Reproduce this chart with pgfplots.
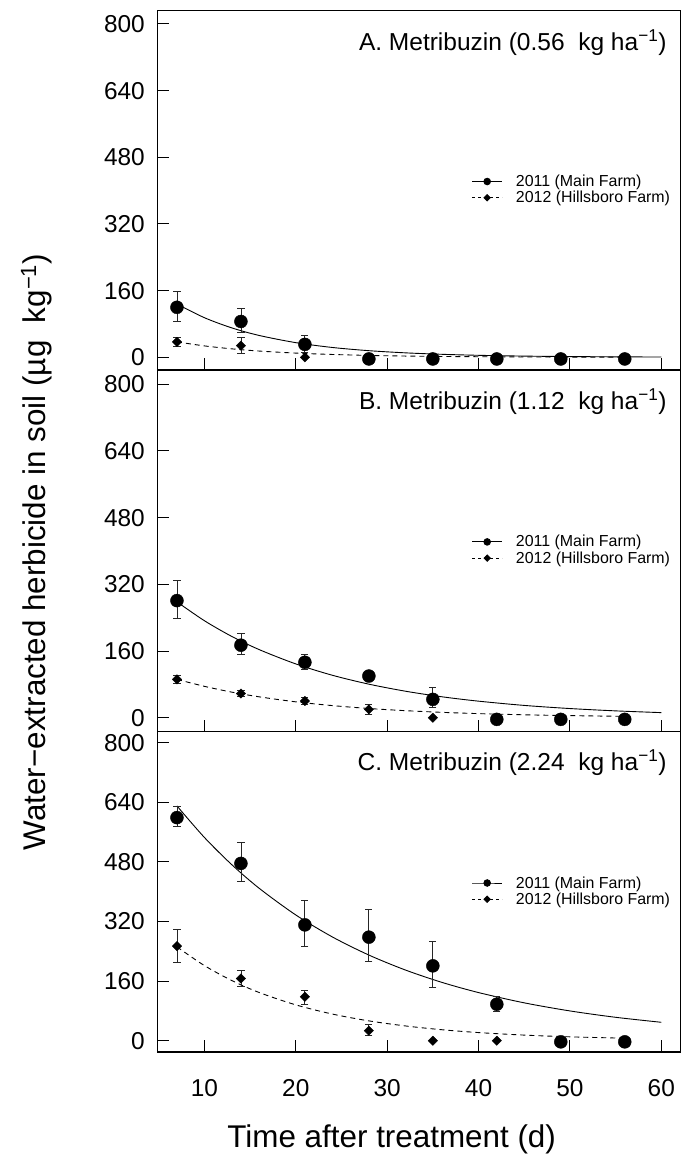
\documentclass[border=0pt]{standalone}
\usepackage{fontspec}
\setmainfont{Liberation Sans}
\usepackage{pgfplots}
\usepackage{pgfplotstable}
\pgfplotsset{compat=1.18}

% panel A (0.56 kg/ha)
\pgfplotstableread{
x y ep em
7 120 37 35
14 86 32 26
21 31 21 19
28 -4 0 0
35 -4 0 0
42 -4 0 0
49 -4 0 0
56 -4 0 0
}\Acirc
\pgfplotstableread{
x y ep em
7 37 11 11
14 28 19 19
21 0 0 0
28 0 0 0
35 0 0 0
42 0 0 0
49 0 0 0
56 0 0 0
}\Adiam
% panel B (1.12 kg/ha)
\pgfplotstableread{
x y ep em
7 281 49 43
14 174 28 22
21 133 19 17
28 100 0 0
35 44 28 20
42 -4 0 0
49 -4 0 0
56 -4 0 0
}\Bcirc
\pgfplotstableread{
x y ep em
7 92 10 10
14 58 7 7
21 40 8 8
28 20 13 13
35 0 0 0
42 0 0 0
49 0 0 0
56 0 0 0
}\Bdiam
% panel C (2.24 kg/ha)
\pgfplotstableread{
x y ep em
7 599 31 23
14 476 56 47
21 311 66 59
28 278 75 64
35 201 66 58
42 98 21 18
49 -3 0 0
56 -3 0 0
}\Ccirc
\pgfplotstableread{
x y ep em
7 254 46 45
14 167 23 22
21 118 18 20
28 27 17 14
35 0 0 0
42 0 0 0
49 0 0 0
56 0 0 0
}\Cdiam

\pgfplotsset{
  panel/.style={
    scale only axis, width=523.2bp,
    xmin=4.85, xmax=62.1,
    xtick={10,20,30,40,50,60},
    ytick={0,160,320,480,640,800},
    tick align=inside, xtick pos=bottom, ytick pos=left,
    major tick length=12bp,
    axis line style={line width=1.2bp},
    every tick/.style={line width=1bp, black},
    /pgf/number format/assume math mode=true,
    tick label style={font=\fontsize{24.5}{28}\selectfont},
    yticklabel style={anchor=east, inner sep=0pt, xshift=-12.3bp},
    xticklabel style={anchor=base, inner sep=0pt, yshift=-44bp},
    clip=false,
    legend image code/.code={\draw[mark repeat=2,mark phase=2,##1] plot coordinates {(0bp,0bp)(15bp,0bp)(30bp,0bp)}; \path (43.3bp,0bp);},
    legend style={draw=none, fill=none, inner sep=0pt, outer sep=0pt,
      at={(rel axis cs:0.601,0.502)}, anchor=west, row sep=3.2bp,
      column sep=0pt, nodes={inner sep=0pt},
      font=\fontsize{16}{18}\selectfont},
    legend cell align=left,
  },
  errs/.style={
    error bars/y dir=both, error bars/y explicit,
    error bars/error bar style={line width=0.8bp, black!85},
    error bars/error mark options={rotate=90, mark size=3.6bp, line width=0.8bp, black!85}},
  circ/.style={only marks, mark=*, mark size=6.5bp, black, errs},
  diam/.style={only marks, mark=square*, mark size=3.3bp, mark options={rotate=45}, black, errs},
  fitsolid/.style={black, line width=0.9bp, smooth, no marks},
  fitdash/.style={black, line width=0.9bp, smooth, no marks, dash pattern=on 5bp off 4bp},
}

\newcommand{\legendentries}{%
  \addlegendimage{black, line width=0.9bp, mark=*, mark size=3.3bp}
  \addlegendentry{2011 (Main Farm)}
  \addlegendimage{black, line width=0.9bp, dash pattern=on 3bp off 3bp, mark=square*, mark size=2.2bp, mark options={rotate=45, solid}}
  \addlegendentry{2012 (Hillsboro Farm)}
}

\begin{document}
\begin{tikzpicture}
\path[use as bounding box] (0bp,0bp) rectangle (688bp,-1158bp);

% ---------------- Panel A
\begin{axis}[panel, at={(157.3bp,-10.7bp)}, anchor=north west,
  height=359.3bp, ymin=-30.5, ymax=831.9, xticklabels=\empty]
\legendentries
\addplot[fitdash, forget plot] coordinates {(7,37.0) (10,27.4) (13,20.3) (16,15.0) (20,10.1) (24,6.8) (28,4.5) (32,3.0) (36,2.0) (40,1.4) (45,0.8) (50,0.5) (56,0.3)};
\addplot[fitsolid, forget plot] coordinates {(7,128.0) (10,95.1) (13,70.6) (16,52.4) (20,35.2) (24,23.6) (28,15.9) (32,10.7) (36,7.2) (40,4.8) (45,2.9) (50,1.8) (55,1.1) (60,0.7)};
\addplot[diam, forget plot] table[x=x, y=y, y error plus=ep, y error minus=em] {\Adiam};
\addplot[circ, forget plot] table[x=x, y=y, y error plus=ep, y error minus=em] {\Acirc};
\node[anchor=base east, inner sep=0pt, xshift=-13.8bp, yshift=-39.3bp, font=\fontsize{24.6}{28}\selectfont] at (rel axis cs:1,1) {A. Metribuzin (0.56~~kg ha\textsuperscript{−1})};
\end{axis}

% ---------------- Panel B
\begin{axis}[panel, at={(157.3bp,-370bp)}, anchor=north west,
  height=361.5bp, ymin=-33.1, ymax=834.3, xticklabels=\empty]
\legendentries
\addplot[fitdash, forget plot] coordinates {(7,92.0) (10,75.3) (13,61.4) (16,50.1) (20,38.1) (24,29.1) (28,22.1) (32,16.9) (36,12.9) (40,9.8) (45,7.0) (50,5.0) (56,3.2)};
\addplot[fitsolid, forget plot] coordinates {(7,278.0) (10,232.8) (13,195.0) (16,163.4) (20,129.1) (24,101.9) (28,80.5) (32,63.6) (36,50.2) (40,39.7) (45,29.5) (50,22.0) (55,16.4) (60,12.2)};
\addplot[diam, forget plot] table[x=x, y=y, y error plus=ep, y error minus=em] {\Bdiam};
\addplot[circ, forget plot] table[x=x, y=y, y error plus=ep, y error minus=em] {\Bcirc};
\node[anchor=base east, inner sep=0pt, xshift=-13.8bp, yshift=-39.3bp, font=\fontsize{24.6}{28}\selectfont] at (rel axis cs:1,1) {B. Metribuzin (1.12~~kg ha\textsuperscript{−1})};
\end{axis}

% ---------------- Panel C
\begin{axis}[panel, at={(157.3bp,-731.5bp)}, anchor=north west,
  height=320.5bp, ymin=-30.3, ymax=830.1]
\legendentries
\addplot[fitdash, forget plot] coordinates {(7,252.0) (10,201.8) (13,161.6) (16,129.4) (20,96.3) (24,71.6) (28,53.3) (32,39.7) (36,29.5) (40,21.9) (45,15.1) (50,10.5) (56,6.7)};
\addplot[fitsolid, forget plot] coordinates {(7,630.3) (10,545.8) (13,472.6) (16,409.2) (20,337.7) (24,278.7) (28,230.0) (32,189.8) (36,156.6) (40,129.3) (45,101.7) (50,80.0) (55,62.9) (60,49.5)};
\addplot[diam, forget plot] table[x=x, y=y, y error plus=ep, y error minus=em] {\Cdiam};
\addplot[circ, forget plot] table[x=x, y=y, y error plus=ep, y error minus=em] {\Ccirc};
\node[anchor=base east, inner sep=0pt, xshift=-13.8bp, yshift=-39.3bp, font=\fontsize{24.6}{28}\selectfont] at (rel axis cs:1,1) {C. Metribuzin (2.24~~kg ha\textsuperscript{−1})};
\end{axis}

\node[rotate=90, anchor=base, inner sep=0pt, font=\fontsize{31.5}{36}\selectfont] at (45bp,-552bp) {Water−extracted herbicide in soil (µg~~kg\textsuperscript{−1})};
\node[anchor=base, inner sep=0pt, font=\fontsize{31.5}{36}\selectfont] at (391.7bp,-1147.3bp) {Time after treatment (d)};
\end{tikzpicture}
\end{document}
